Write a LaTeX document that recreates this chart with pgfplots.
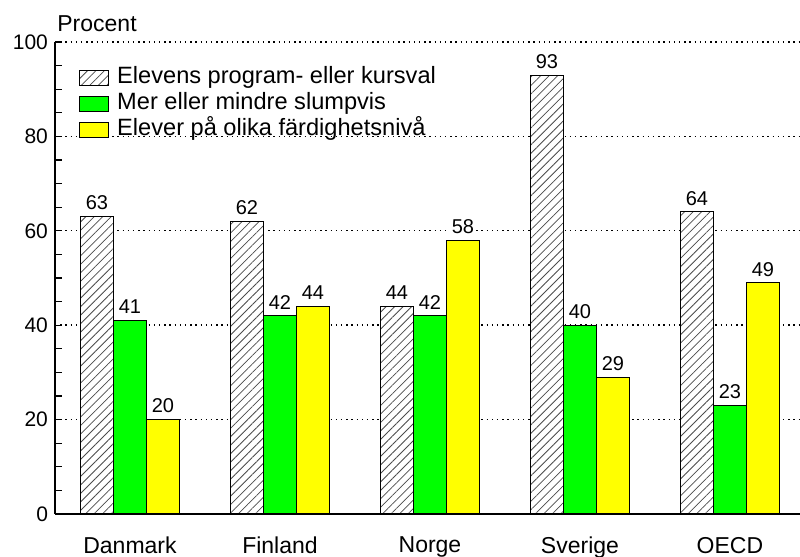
\documentclass[border=0pt]{standalone}
\usepackage{fontspec}
\setmainfont{Liberation Sans}
\usepackage{pgfplots}
\pgfplotsset{compat=1.18}
\usetikzlibrary{patterns.meta}
\definecolor{mygreen}{RGB}{0,255,0}
\definecolor{myyellow}{RGB}{255,255,0}
\begin{document}
\begin{tikzpicture}
\path[use as bounding box] (-27.5pt,-21.5pt) rectangle (372.5pt,257pt);
\begin{axis}[
 name=ax,
 at={(0,0)}, anchor=south west,
 scale only axis, width=372.5pt, height=236pt,
 ybar=0pt, bar width=16.5pt,
 xmin=-0.5, xmax=4.467, ymin=0, ymax=100,
 xtick=data, xticklabels={Danmark,Finland,Norge,Sverige,OECD},
 ytick={0,20,...,100}, minor y tick num=3,
 axis x line=bottom, axis y line=left,
 axis line style={-, line width=1.3pt},
 tick align=inside, major tick length=3.5pt, minor tick length=3.5pt,
 x tick style={draw=none},
 y tick style={line width=0.6pt, black},
 ymajorgrids, major grid style={black, line width=0.7pt, dash pattern=on 0.7pt off 1.9pt},
 /pgf/number format/assume math mode=true,
 yticklabel style={font=\fontsize{10.5}{12}\selectfont},
 xticklabel style={font=\fontsize{11.5}{13}\selectfont, yshift=-8pt},
 nodes near coords,
 nodes near coords style={font=\fontsize{10}{12}\selectfont, fill=white, inner sep=1pt, anchor=south, yshift=2pt, text=black},
 legend style={at={(0.032,0.9524)}, anchor=north west, draw=none, fill=none, inner sep=0pt,
   font=\fontsize{11.8}{13}\selectfont, legend cell align=left,
   nodes={inner sep=1pt, text height=8.5pt, text depth=2.5pt},
   /tikz/every odd column/.append style={column sep=3pt}},
 legend image code/.code={\draw[#1,line width=0.5pt] (0pt,-3.75pt) rectangle (14.5pt,3.75pt);},
]
\addplot[draw=black, line width=0.5pt, fill=white, postaction={pattern={Lines[angle=45,distance=3pt,line width=0.4pt]}, pattern color=black!70}]
 coordinates {(0,63) (1,62) (2,44) (3,93) (4,64)};
\addplot[draw=black, line width=0.5pt, fill=mygreen]
 coordinates {(0,41) (1,42) (2,42) (3,40) (4,23)};
\addplot[draw=black, line width=0.5pt, fill=myyellow]
 coordinates {(0,20) (1,44) (2,58) (3,29) (4,49)};
\legend{Elevens program- eller kursval, Mer eller mindre slumpvis, Elever på olika färdighetsnivå}
\end{axis}
\node[anchor=base west, inner sep=0pt, font=\fontsize{11.5}{13}\selectfont] at ([shift={(1pt,5pt)}]ax.north west) {Procent};
\end{tikzpicture}
\end{document}
